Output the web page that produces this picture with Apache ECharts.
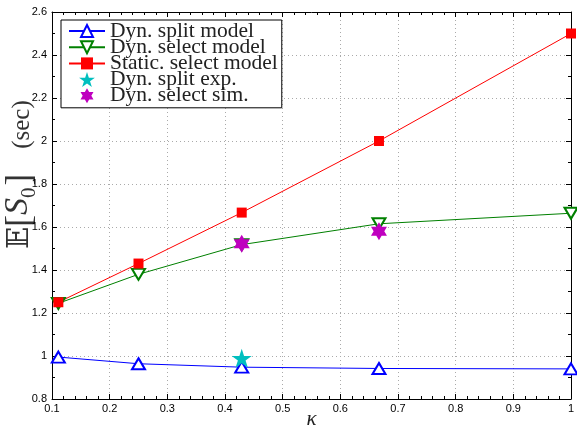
<!DOCTYPE html>
<html><head><meta charset="utf-8">
<script src="https://cdn.jsdelivr.net/npm/echarts@6/dist/echarts.min.js"></script>
<style>html,body{margin:0;padding:0;background:#fff}#c{width:577px;height:427px}</style>
</head><body><div id="c"></div>
<script>
const kappa = [0.111, 0.25, 0.429, 0.667, 1.0];
const dynSplitModel = [0.995, 0.964, 0.948, 0.942, 0.940];
const dynSelectModel = [1.245, 1.380, 1.518, 1.615, 1.664];
const staticSelectModel = [1.250, 1.430, 1.667, 2.000, 2.500];
const dynSplitExpX = [0.429];
const dynSplitExp = [0.990];
const dynSelectSimX = [0.429, 0.667];
const dynSelectSim = [1.522, 1.580];
const xTicks = {min: 0.1, max: 1, step: 0.1};
const yTicks = {min: 0.8, max: 2.6, step: 0.2};

const STAR = 'path://M50,0 L61.2,34.5 L97.6,34.5 L68.2,55.9 L79.4,90.5 L50,69.1 L20.6,90.5 L31.8,55.9 L2.4,34.5 L38.8,34.5 Z';
const HEX = 'path://M50,0 L64.4,25 L93.3,25 L78.9,50 L93.3,75 L64.4,75 L50,100 L35.6,75 L6.7,75 L21.1,50 L6.7,25 L35.6,25 Z';

const pair = (xs, ys) => xs.map((x, i) => [x, ys[i]]);
const chart = echarts.init(document.getElementById('c'), null, {renderer: 'canvas'});
const sans = 'Liberation Sans';
const serif = 'Liberation Serif';

function axisBase(t, extra) {
  return Object.assign({
    type: 'value', min: t.min, max: t.max, interval: t.step,
    axisLine: {show: true, lineStyle: {color: '#000', width: 1}},
    axisTick: {show: true, inside: true, length: 5, lineStyle: {color: '#000'}},
    minorTick: {show: true, length: 3, lineStyle: {color: '#000'}},
    splitLine: {show: false},
    axisLabel: {show: false}
  }, extra);
}
const nameCol = '#333';
const pb = [0, 0, 5, 0];

chart.setOption({
  animation: false,
  backgroundColor: '#fff',
  textStyle: {fontFamily: serif},
  grid: {left: 52, right: 6, top: 12, bottom: 28, containLabel: false, outerBoundsMode: 'none'},
  legend: {
    orient: 'vertical', left: 61, top: 20,
    backgroundColor: '#fff', borderColor: '#000', borderWidth: 1, borderRadius: 0,
    padding: [0, 4, 1, 7],
    itemWidth: 36, itemHeight: 15, itemGap: -5.8,
    formatter: n => '{t|' + n + '}',
    textStyle: {fontFamily: serif, fontSize: 21, color: '#222',
      rich: {t: {fontFamily: serif, fontSize: 21.5, lineHeight: 16, color: '#222'}}},
    data: ['Dyn. split model', 'Dyn. select model', 'Static. select model', 'Dyn. split exp.', 'Dyn. select sim.']
  },
  xAxis: [
    axisBase(xTicks, {
      position: 'bottom',
      minorTick: {show: true, splitNumber: 5, length: 3, lineStyle: {color: '#000'}},
      axisLabel: {show: true, color: '#000', fontFamily: sans, fontSize: 11, margin: 4,
        formatter: v => String(+v.toFixed(1))},
      splitLine: {show: true, lineStyle: {color: '#aaa', type: [1, 3], width: 1}},
      name: 'κ', nameLocation: 'middle', nameGap: 10, nameMoveOverlap: false,
      nameTextStyle: {fontFamily: serif, fontSize: 21, fontStyle: 'italic', color: '#222', verticalAlign: 'top'}
    }),
    axisBase(xTicks, {position: 'top', minorTick: {show: true, splitNumber: 5, length: 3, lineStyle: {color: '#000'}}})
  ],
  yAxis: [
    axisBase(yTicks, {
      position: 'left',
      minorTick: {show: true, splitNumber: 2, length: 3, lineStyle: {color: '#000'}},
      axisLabel: {show: true, color: '#000', fontFamily: sans, fontSize: 11, margin: 5,
        formatter: v => String(+v.toFixed(1))},
      splitLine: {show: true, lineStyle: {color: '#aaa', type: [1, 3], width: 1}},
      name: '{bb|𝔼}{b|[}{it|S}{sub|0}{b|]}{n|    (sec)}', nameLocation: 'middle', nameGap: 12, nameRotate: 90,
      nameMoveOverlap: false,
      nameTextStyle: {fontFamily: serif, fontSize: 24, color: nameCol, padding: [0, 0, 0, 62],
        rich: {
          n: {fontFamily: serif, fontSize: 25, color: nameCol, verticalAlign: 'bottom', padding: pb},
          b: {fontFamily: serif, fontSize: 35, color: nameCol, verticalAlign: 'bottom', padding: [0, 0, 2, 0]},
          bb: {fontFamily: 'DejaVu Serif', fontSize: 29, color: nameCol, verticalAlign: 'bottom', padding: pb},
          it: {fontFamily: serif, fontStyle: 'italic', fontSize: 34, color: nameCol, verticalAlign: 'bottom', padding: pb},
          sub: {fontFamily: serif, fontSize: 21, color: nameCol, verticalAlign: 'bottom', padding: [0, 2, 0, 0]}
        }}
    }),
    axisBase(yTicks, {position: 'right', minorTick: {show: true, splitNumber: 2, length: 3, lineStyle: {color: '#000'}}})
  ],
  series: [
    {name: 'Dyn. split model', type: 'line', data: pair(kappa, dynSplitModel), z: 2,
      symbol: 'emptyTriangle', symbolSize: [13, 11],
      lineStyle: {color: '#0000ff', width: 1}, itemStyle: {color: '#0000ff', borderWidth: 1}},
    {name: 'Dyn. select model', type: 'line', data: pair(kappa, dynSelectModel), z: 2,
      symbol: 'emptyTriangle', symbolRotate: 180, symbolSize: [13, 11],
      lineStyle: {color: '#008000', width: 1}, itemStyle: {color: '#008000', borderWidth: 1}},
    {name: 'Static. select model', type: 'line', data: pair(kappa, staticSelectModel), z: 2,
      symbol: 'rect', symbolSize: 10,
      lineStyle: {color: '#ff0000', width: 1}, itemStyle: {color: '#ff0000'}},
    {name: 'Dyn. split exp.', type: 'scatter', data: pair(dynSplitExpX, dynSplitExp), z: 5,
      symbol: STAR, symbolSize: 20, symbolKeepAspect: true, itemStyle: {color: '#00bfbf', opacity: 1}},
    {name: 'Dyn. select sim.', type: 'scatter', data: pair(dynSelectSimX, dynSelectSim), z: 5,
      symbol: HEX, symbolSize: [16, 18], itemStyle: {color: '#bf00bf', opacity: 1}}
  ]
});
</script></body></html>
